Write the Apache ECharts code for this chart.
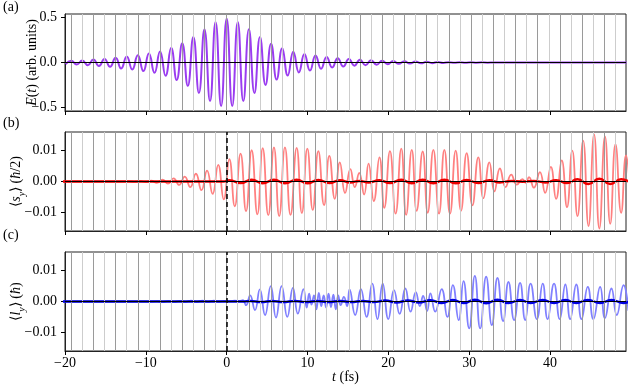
<!DOCTYPE html>
<html>
<head>
<meta charset="utf-8">
<script src="https://cdn.jsdelivr.net/npm/echarts@6/dist/echarts.min.js"></script>
<style>
html, body { margin: 0; padding: 0; background: #fff; }
#chart { width: 635px; height: 388px; }
</style>
</head>
<body>
<div id="chart"></div>
<script>
// optical period (fs), the grey guide lines sit on its multiples
var period = 1.374;
var xTicks = [-20, -10, 0, 10, 20, 30, 40];
var eTicks = [-0.5, 0, 0.5];
var sTicks = [-0.01, 0, 0.01];
var lTicks = [-0.01, 0, 0.01];

// (a) E(t): one extremum every half period, starting at k = -29
var eFirstK = -29;
var eVals = [
  -0.018, 0.019, -0.022, 0.022, -0.030, 0.033, -0.040, 0.040, -0.048, 0.052,
  -0.067, 0.067, -0.078, 0.080, -0.096, 0.100, -0.115, 0.122, -0.148, 0.163,
  -0.196, 0.215, -0.26, 0.285, -0.34, 0.37, -0.43, 0.45, -0.485, 0.49,
  -0.485, 0.45, -0.43, 0.37, -0.34, 0.285, -0.25, 0.21, -0.19, 0.16,
  -0.145, 0.12, -0.11, 0.095, -0.09, 0.078, -0.07, 0.062, -0.055, 0.048,
  -0.045, 0.04, -0.036, 0.032, -0.03, 0.026, -0.024, 0.02, -0.019, 0.016,
  -0.015, 0.013, -0.012, 0.01, -0.009, 0.008, -0.007, 0.006, -0.005, 0.004,
  -0.004, 0.003, -0.003, 0.002, -0.002, 0.0015, -0.0015, 0.001, -0.001, 0,
  0, 0, 0, 0, 0, 0, 0, 0, 0, 0,
  0, 0, 0, 0, 0, 0, 0, 0, 0, 0,
  0, 0
];

// (b) <s_y>, [t, value] at the turning points
var sLight = [
  [-20.4, 0], [-12.8, 0], [-12.09, 0.0001], [-11.4, -0.0001], [-10.71, 0.0002], [-10.02, -0.0002],
  [-9.33, 0.0003], [-8.64, -0.0004], [-7.95, 0.0006], [-7.26, -0.0007], [-6.57, 0.001], [-5.88, -0.0011],
  [-5.19, 0.0016], [-4.5, -0.0018], [-3.81, 0.0025], [-3.12, -0.0028], [-2.43, 0.0035], [-1.74, -0.004],
  [-1.05, 0.0054], [-0.36, -0.0058], [0.33, 0.0072], [1.0, -0.008], [1.72, 0.009], [2.4, -0.0096],
  [3.09, 0.0101], [3.8, -0.0106], [4.46, 0.0108], [5.15, -0.0109], [5.85, 0.011], [6.5, -0.0112],
  [7.21, 0.011], [7.9, -0.0108], [8.66, 0.0109], [9.3, -0.0102], [9.98, 0.0106], [10.65, -0.0092],
  [11.34, 0.0098], [12.05, -0.0076], [12.7, 0.0083], [13.38, -0.0056], [14.0, 0.0062], [14.65, -0.0037],
  [15.3, 0.004], [15.85, -0.0018], [16.4, 0.0028], [17.0, -0.0042], [17.55, 0.0058], [18.2, -0.0063],
  [18.9, 0.0078], [19.5, -0.0085], [20.2, 0.0098], [20.9, -0.0104], [21.6, 0.0106], [22.2, -0.0108],
  [22.9, 0.0102], [23.5, -0.0095], [24.25, 0.0097], [24.87, -0.0101], [25.57, 0.0102], [26.27, -0.0104],
  [26.93, 0.0102], [27.63, -0.0104], [28.33, 0.01], [28.99, -0.0095], [29.69, 0.0092], [30.4, -0.0077],
  [31.13, 0.0078], [31.76, -0.0054], [32.5, 0.0062], [33.12, -0.0032], [33.8, 0.0042], [34.5, -0.0018],
  [35.2, 0.0022], [35.9, -0.001], [36.6, 0.0008], [37.0, -0.0004], [37.4, 0.0014], [38.0, -0.002],
  [38.75, 0.003], [39.4, -0.0037], [40.1, 0.0047], [40.75, -0.0056], [41.45, 0.0068], [42.1, -0.0083],
  [42.75, 0.01], [43.4, -0.0112], [44.1, 0.0132], [44.76, -0.0144], [45.45, 0.0152], [46.1, -0.0152],
  [46.8, 0.0146], [47.45, -0.0137], [48.1, 0.0121], [48.8, -0.0101], [49.4, 0.0084], [50.0, -0.006]
];
var sDark = [
  [-20.4, 0], [-0.4, 0], [0.33, 0.0004], [1.72, -0.0005], [3.09, 0.0006], [4.46, -0.0006],
  [5.85, 0.0006], [7.21, -0.0006], [8.66, 0.0006], [9.98, -0.0006], [11.34, 0.0005], [12.7, -0.0005],
  [14.0, 0.0004], [15.3, -0.0003], [16.4, 0.0002], [17.55, -0.0003], [18.9, 0.0004], [20.2, -0.0005],
  [21.6, 0.0006], [22.9, -0.0006], [24.25, 0.0006], [25.57, -0.0006], [26.93, 0.0006], [28.33, -0.0006],
  [29.69, 0.0005], [31.13, -0.0005], [32.5, 0.0004], [33.8, -0.0003], [35.2, 0.0002], [36.6, -0.0001],
  [38.0, 0.0002], [39.4, -0.0003], [40.75, 0.0004], [42.1, -0.0005], [43.4, 0.0007], [44.76, -0.0008],
  [46.1, 0.0009], [47.45, -0.0008], [48.8, 0.0007], [50.1, -0.0006]
];

// (c) <l_y>, [t, value] at the turning points
var lLight = [
  [-20.4, 0], [-9.5, 0], [-8.6, 0.0001], [-7.9, -0.0001], [-7.2, 0.0002], [-6.5, -0.0001],
  [-5.8, 0.0002], [-5.1, -0.0001], [-4.4, 0.0003], [-3.7, -0.0001], [-3.0, 0.0003], [-2.3, -0.0001],
  [-1.6, 0.0003], [-0.9, 0], [-0.2, 0.0002], [0.5, 0.0001], [1.0, 0.0003], [1.6, 0.0001],
  [2.0, 0.0004], [2.4, -0.0012], [2.9, 0.002], [3.5, -0.0028], [4.1, 0.0039], [4.75, -0.0044],
  [5.45, 0.005], [6.1, -0.0052], [6.8, 0.005], [7.5, -0.005], [8.2, 0.0044], [8.8, -0.0039],
  [9.5, 0.004], [9.9, -0.002], [10.2, 0.0025], [10.5, -0.001], [10.8, 0.002], [11.1, -0.0025],
  [11.4, 0.0028], [11.7, -0.0015], [12.0, 0.002], [12.3, -0.002], [12.6, 0.0025], [12.9, -0.0018],
  [13.2, 0.0022], [13.5, -0.0025], [13.8, 0.002], [14.1, -0.0012], [14.5, 0.0015], [14.9, -0.0015],
  [15.2, 0.0039], [15.9, -0.0044], [16.6, 0.004], [17.3, -0.005], [18.0, 0.0058], [18.65, -0.0057],
  [19.3, 0.0058], [20.0, -0.0057], [20.7, 0.0037], [21.4, -0.004], [22.1, 0.0042], [22.75, -0.0033],
  [23.4, 0.003], [23.9, -0.0015], [24.3, 0.0018], [24.8, -0.003], [25.2, 0.0026], [25.8, -0.0033],
  [26.6, 0.004], [27.3, -0.005], [27.98, 0.0053], [28.7, -0.006], [29.3, 0.0066], [30.0, -0.0087],
  [30.7, 0.0083], [31.36, -0.0087], [32.1, 0.008], [32.8, -0.0076], [33.5, 0.0076], [34.2, -0.0063],
  [34.86, 0.0063], [35.56, -0.006], [36.3, 0.006], [36.93, -0.006], [37.6, 0.0058], [38.37, -0.0057],
  [39.1, 0.0058], [39.7, -0.0057], [40.5, 0.0058], [41.2, -0.0057], [41.9, 0.0055], [42.5, -0.0057],
  [43.25, 0.0055], [43.9, -0.0057], [44.67, 0.0047], [45.37, -0.0057], [46.2, 0.0047], [46.8, -0.0054],
  [47.6, 0.0042], [48.25, -0.0044], [49.1, 0.0053], [49.7, -0.003]
];
var lDark = [
  [-20.4, 0], [2.0, 0], [2.9, 0.0002], [4.3, -0.0002], [5.6, 0.0002], [7.0, -0.0002],
  [8.4, 0.0002], [9.8, -0.0002], [11.2, 0.0002], [12.6, -0.0002], [14.0, 0.0002], [15.4, -0.0002],
  [16.8, 0.0002], [18.2, -0.0002], [19.6, 0.0003], [21.0, -0.0003], [22.4, 0.0003], [23.8, -0.0003],
  [25.2, 0.0004], [26.6, -0.0005], [27.98, 0.0005], [29.3, -0.0005], [30.7, 0.0006], [32.1, -0.0006],
  [33.5, 0.0006], [34.86, -0.0005], [36.3, 0.0005], [37.6, -0.0005], [39.1, 0.0005], [40.5, -0.0005],
  [41.9, 0.0005], [43.25, -0.0005], [44.67, 0.0005], [46.2, -0.0005], [47.6, 0.0005], [49.1, -0.0005],
  [50.0, 0.0003]
];

var FONT = 'Liberation Serif';
var FS = 14;
var minus = function (s) { return s.replace('-', '\u2212'); };

var eData = eVals.map(function (v, i) { return [(eFirstK + i) * period / 2, v]; });

// grey guide lines, darker on even multiples of the period
var guides = [];
for (var k = -14; k * period < 49.4; k++) {
  guides.push({ xAxis: k * period, lineStyle: { color: k % 2 === 0 ? '#9a9a9a' : '#cdcdcd', width: 1, type: 'solid' } });
}

var grids = [
  { left: 65, width: 561, top: 14, height: 97 },
  { left: 65, width: 561, top: 132, height: 99 },
  { left: 65, width: 561, top: 252, height: 99 }
];
grids.forEach(function (g) {
  g.show = true; g.borderColor = '#222'; g.borderWidth = 1; g.backgroundColor = 'transparent';
  g.containLabel = false; g.outerBoundsMode = 'none';
});

function xAxisFor(i) {
  return {
    type: 'value', gridIndex: i, min: -20, max: 49.4,
    axisLine: { show: true, onZero: false, lineStyle: { color: '#222', width: 1 } },
    axisTick: { show: true, length: 4, customValues: xTicks, lineStyle: { color: '#000' } },
    axisLabel: { show: i === 2, customValues: xTicks, margin: 5, fontFamily: FONT, fontSize: FS, color: '#000',
      formatter: function (v) { return minus(String(v)); } },
    splitLine: { show: false },
    name: i === 2 ? '{i|t} (fs)' : '',
    nameLocation: 'middle', nameGap: 19, nameMoveOverlap: false,
    nameTextStyle: { fontFamily: FONT, fontSize: FS, color: '#000',
      rich: { i: { fontFamily: FONT, fontSize: FS, fontStyle: 'italic', color: '#000' } } }
  };
}

var subRich = {
  i: { fontFamily: FONT, fontSize: FS, fontStyle: 'italic', color: '#000' },
  sub: { fontFamily: FONT, fontSize: 10, fontStyle: 'italic', color: '#000', verticalAlign: 'bottom', padding: [0, 0, -4, 0] }
};

function yAxisFor(i, lim, ticks, digits, name, gap) {
  return {
    type: 'value', gridIndex: i, min: -lim, max: lim,
    axisLine: { show: true, onZero: false, lineStyle: { color: '#222', width: 1 } },
    axisTick: { show: true, length: 4, customValues: ticks, lineStyle: { color: '#000' } },
    axisLabel: { customValues: ticks, margin: 8, fontFamily: FONT, fontSize: FS, color: '#000',
      formatter: function (v) { return minus(Number(v).toFixed(digits)); } },
    splitLine: { show: false },
    name: name, nameLocation: 'middle', nameGap: gap, nameMoveOverlap: false,
    nameTextStyle: { fontFamily: FONT, fontSize: FS, color: '#000', rich: subRich }
  };
}

function guideSeries(i) {
  return { type: 'line', xAxisIndex: i, yAxisIndex: i, data: [], z: 1, silent: true,
    markLine: { symbol: ['none', 'none'], silent: true, label: { show: false }, animation: false, data: guides } };
}
function zeroSeries(i, dashed) {
  var d = [{ yAxis: 0, lineStyle: { color: '#000', width: 1, type: 'solid' } }];
  if (dashed) d.push({ xAxis: 0, lineStyle: { color: '#000', width: 1.5, type: [5, 3] } });
  return { type: 'line', xAxisIndex: i, yAxisIndex: i, data: [], z: 6, silent: true,
    markLine: { symbol: ['none', 'none'], silent: true, label: { show: false }, animation: false, data: d } };
}
function curve(i, data, color, width, z) {
  return { type: 'line', xAxisIndex: i, yAxisIndex: i, data: data, smooth: 0.5, showSymbol: false,
    lineStyle: { color: color, width: width }, z: z, silent: true, animation: false };
}

var chart = echarts.init(document.getElementById('chart'));
chart.setOption({
  animation: false,
  backgroundColor: '#fff',
  grid: grids,
  xAxis: [xAxisFor(0), xAxisFor(1), xAxisFor(2)],
  yAxis: [
    yAxisFor(0, 0.54, eTicks, 1, '{i|E}({i|t}) (arb. units)', 26),
    yAxisFor(1, 0.016, sTicks, 2, '\u27e8{i|s}{sub|y}\u27e9 ({i|\u0127}/2)', 42),
    yAxisFor(2, 0.016, lTicks, 2, '\u27e8{i|l}{sub|y}\u27e9 ({i|\u0127})', 42)
  ],
  series: [
    guideSeries(0), guideSeries(1), guideSeries(2),
    curve(0, eData, '#9a3cf0', 2, 3),
    curve(1, sLight, '#ff8080', 1.8, 3),
    curve(1, sDark, '#ee0000', 2.5, 4),
    curve(2, lLight, '#8080ff', 1.8, 3),
    curve(2, lDark, '#0000e0', 2.5, 4),
    zeroSeries(0, false), zeroSeries(1, true), zeroSeries(2, true)
  ],
  graphic: [
    { type: 'text', left: 3, top: 0, style: { text: '(a)', font: '14px "Liberation Serif"', fill: '#000' } },
    { type: 'text', left: 3, top: 116, style: { text: '(b)', font: '14px "Liberation Serif"', fill: '#000' } },
    { type: 'text', left: 3, top: 228, style: { text: '(c)', font: '14px "Liberation Serif"', fill: '#000' } }
  ]
});
</script>
</body>
</html>
